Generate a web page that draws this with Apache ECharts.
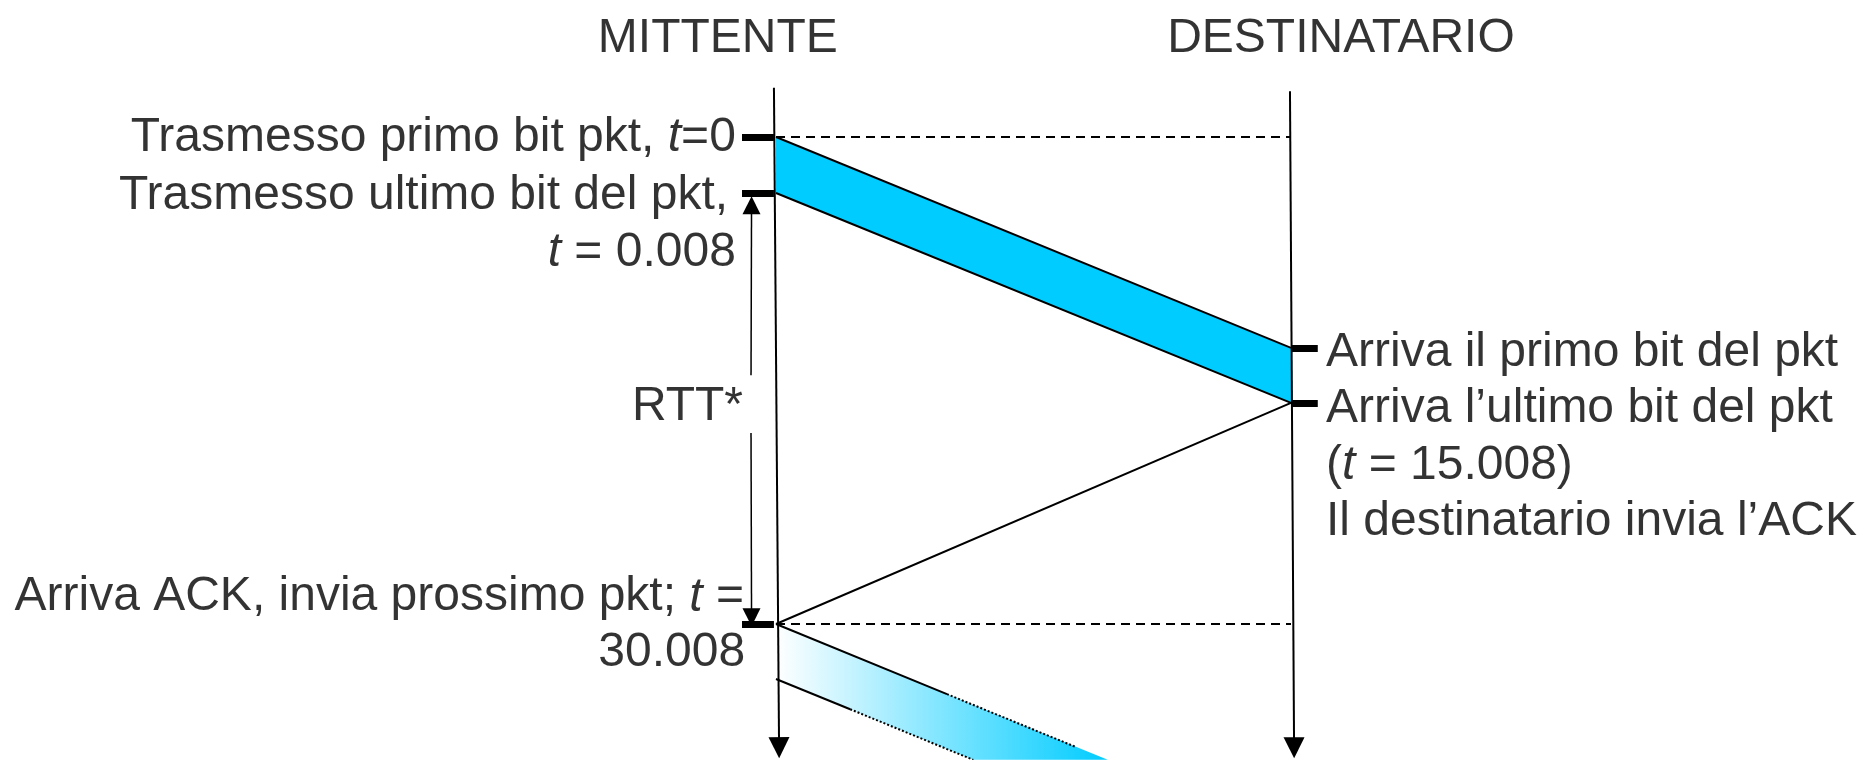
<!DOCTYPE html>
<html><head><meta charset="utf-8">
<script src="https://cdn.jsdelivr.net/npm/echarts@6/dist/echarts.min.js"></script>
<style>html,body{margin:0;padding:0;background:#fff}#c{width:1861px;height:760px}</style>
</head><body><div id="c"></div>
<script>
// Diagram units: x = 0 sender timeline, 1 receiver timeline; y = diagram time units (0 = t=0, 100 = ACK arrives)
const hostNames = ['MITTENTE', 'DESTINATARIO'];
const hostHeaderAnchors = [[-0.113, -20.2], [1.097, -20.2]];
const timelineTops = [[-0.004, -10.1], [0.998, -9.4]];
const timelineEnds = [[0.006, 125.4], [1.006, 125.4]];

// packet 1: first bit sent, last bit sent, first bit arrives, last bit arrives
const pkt1Times = [0, 11.5, 43.3, 54.6];
// ACK: leaves receiver, arrives at sender
const ackTimes = [54.6, 100];
// packet 2 visible part (cut by the page bottom)
const pkt2Polygon = [[0, 100], [0.644, 127.9], [0.383, 127.9], [0, 111.3]];
const pkt2SolidEdges = [[[0, 100], [0.332, 114.4]], [[0, 111.3], [0.144, 117.5]]];
const pkt2DottedEdges = [[[0.332, 114.4], [0.581, 125.2]], [[0.144, 117.5], [0.383, 127.9]]];

const dashedTimes = [0, 100];
const senderTickTimes = [0, 11.5, 100];
const receiverTickTimes = [43.3, 54.6];
const senderTickSpan = [-0.066, -0.004];
const receiverTickSpan = [1.0, 1.052];

// RTT* double arrow
const rttX = -0.0485;
const rttUpper = [48.9, 14.0];
const rttLower = [60.8, 98.6];
const rttLabel = ['RTT*', -0.064, 55.4];

const leftLabels = [
  ['Trasmesso primo bit pkt, {i|t}=0', -0.078, 0.1],
  ['Trasmesso ultimo bit del pkt,', -0.093, 12.1],
  ['{i|t} = 0.008', -0.078, 23.7],
  ['Arriva ACK, invia prossimo pkt; {i|t} =', -0.062, 94.5],
  ['30.008', -0.060, 105.9]
];
const rightLabels = [
  ['Arriva il primo bit del pkt', 1.068, 44.3],
  ['Arriva l\u2019ultimo bit del pkt', 1.068, 55.8],
  ['({i|t} = 15.008)', 1.068, 67.5],
  ['Il destinatario invia l\u2019ACK', 1.068, 79.0]
];

const FONT = "'Liberation Sans', Arial, sans-serif";
const FS = 48;
const rich = { i: { fontStyle: 'italic', fontSize: FS, fontFamily: FONT, color: '#000' } };

const pkt1Polygon = [[0, pkt1Times[0]], [1, pkt1Times[2]], [1, pkt1Times[3]], [0, pkt1Times[1]]];
const polygons = [pkt1Polygon, pkt2Polygon];

const solidLines = [
  [[0, pkt1Times[0]], [1, pkt1Times[2]]],
  [[0, pkt1Times[1]], [1, pkt1Times[3]]],
  [[1, ackTimes[0]], [0, ackTimes[1]]]
].concat(pkt2SolidEdges);

function labelSeries(items, pos) {
  return {
    type: 'scatter', clip: false, silent: true, symbolSize: 0, z: 10,
    data: items.map(d => ({ name: d[0], value: [d[1], d[2]] })),
    label: { show: true, position: pos, distance: 0, formatter: '{b}',
      fontSize: FS, fontFamily: FONT, color: '#000', rich: rich }
  };
}

const chart = echarts.init(document.getElementById('c'), null, { renderer: 'canvas' });
chart.setOption({
  animation: false,
  backgroundColor: '#fff',
  grid: { left: 776, right: 570, top: 137, bottom: 136 },
  xAxis: { type: 'value', min: 0, max: 1, show: false },
  yAxis: { type: 'value', min: 0, max: 100, inverse: true, show: false },
  series: [
    {
      type: 'custom', clip: false, silent: true, z: 1,
      data: polygons.map((p, i) => [i]),
      renderItem: function (params, api) {
        const pts = polygons[params.dataIndex].map(p => api.coord(p));
        const fill = params.dataIndex === 0 ? '#00CCFF' :
          new echarts.graphic.LinearGradient(0, 0, 1, 0, [
            { offset: 0, color: '#FFFFFF' }, { offset: 1, color: '#00CCFF' }]);
        return { type: 'polygon', shape: { points: pts }, style: { fill: fill, stroke: null } };
      }
    },
    {
      type: 'lines', coordinateSystem: 'cartesian2d', clip: false, silent: true, z: 3,
      symbol: 'none',
      lineStyle: { color: '#000', width: 2, opacity: 1 },
      data: solidLines.map(c => ({ coords: c }))
    },
    {
      type: 'lines', coordinateSystem: 'cartesian2d', clip: false, silent: true, z: 3,
      symbol: ['none', 'triangle'], symbolSize: 21,
      lineStyle: { color: '#000', width: 2, opacity: 1 },
      data: timelineTops.map((t, i) => ({ coords: [t, timelineEnds[i]] }))
    },
    {
      type: 'lines', coordinateSystem: 'cartesian2d', clip: false, silent: true, z: 2,
      symbol: 'none',
      lineStyle: { color: '#000', width: 2, type: [9, 6], opacity: 1 },
      data: dashedTimes.map(t => ({ coords: [[0, t], [1, t]] }))
    },
    {
      type: 'lines', coordinateSystem: 'cartesian2d', clip: false, silent: true, z: 3,
      symbol: 'none',
      lineStyle: { color: '#000', width: 2, type: [2, 2], opacity: 1 },
      data: pkt2DottedEdges.map(c => ({ coords: c }))
    },
    {
      type: 'lines', coordinateSystem: 'cartesian2d', clip: false, silent: true, z: 4,
      symbol: 'none',
      lineStyle: { color: '#000', width: 7, opacity: 1, cap: 'butt' },
      data: senderTickTimes.map(t => ({ coords: [[senderTickSpan[0], t], [senderTickSpan[1], t]] }))
        .concat(receiverTickTimes.map(t => ({ coords: [[receiverTickSpan[0], t], [receiverTickSpan[1], t]] })))
    },
    {
      type: 'lines', coordinateSystem: 'cartesian2d', clip: false, silent: true, z: 3,
      symbol: ['none', 'triangle'], symbolSize: 18,
      lineStyle: { color: '#000', width: 1.5, opacity: 1 },
      data: [rttUpper, rttLower].map(s => ({ coords: [[rttX, s[0]], [rttX + 0.001, s[1]]] }))
    },
    labelSeries(leftLabels.concat([rttLabel]), 'left'),
    labelSeries(rightLabels, 'right'),
    labelSeries(hostNames.map((n, i) => [n, hostHeaderAnchors[i][0], hostHeaderAnchors[i][1]]), 'inside')
  ]
});
</script></body></html>
